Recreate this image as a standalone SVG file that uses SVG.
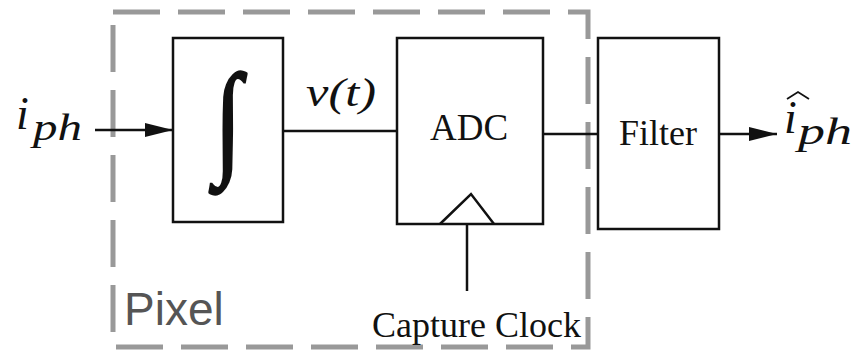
<svg xmlns="http://www.w3.org/2000/svg" width="859" height="350" viewBox="0 0 859 350">
<style>
.blk{fill:#fff;stroke:#111;stroke-width:2.5}
.wire{fill:none;stroke:#111;stroke-width:2.5}
.rm{font-family:"Liberation Serif",serif;fill:#111}
.it{font-family:"Liberation Serif",serif;font-style:italic;fill:#111}
.dash{fill:none;stroke:#999;stroke-width:5;stroke-dasharray:47 18}
</style>
<defs>
<marker id="ah" markerWidth="30" markerHeight="16" refX="28" refY="7" orient="auto" markerUnits="userSpaceOnUse">
<path d="M0,0 L28,7 L0,14 Z" fill="#111"/>
</marker>
</defs>
<rect width="859" height="350" fill="#fff"/>
<g id="pixel">
<rect class="dash" x="113" y="12" width="475" height="335"/>
<text x="124" y="325" font-family="Liberation Sans,Arial,sans-serif" font-size="46" fill="#555">Pixel</text>
</g>
<g id="connectors">
<line class="wire" x1="95" y1="130" x2="173" y2="130" marker-end="url(#ah)"/>
<line class="wire" x1="283" y1="131" x2="397" y2="131"/>
<line class="wire" x1="543" y1="134" x2="598" y2="134"/>
<line class="wire" x1="719" y1="134" x2="777" y2="134" marker-end="url(#ah)"/>
<line class="wire" x1="467" y1="224" x2="467" y2="291"/>
</g>
<g id="input">
<text class="it" x="16" y="129" font-size="46">i</text>
<text class="it" x="33" y="140" font-size="38" textLength="49" lengthAdjust="spacingAndGlyphs">ph</text>
</g>
<g id="integrator">
<rect class="blk" x="173" y="38" width="110" height="184"/>
<text class="rm" transform="translate(228,161) scale(0.9,1.14)" x="0" y="0" font-size="110" text-anchor="middle" style="stroke:#111;stroke-width:2.2">∫</text>
</g>
<g id="vt">
<text class="it" x="306" y="106" font-size="40" textLength="70" lengthAdjust="spacingAndGlyphs">v(t)</text>
</g>
<g id="adc">
<rect class="blk" x="397" y="38" width="146" height="186"/>
<text class="rm" x="469" y="140" font-size="37" text-anchor="middle">ADC</text>
<polyline class="wire" points="440,224 471,194 494,224"/>
</g>
<g id="filter">
<rect class="blk" x="598" y="38" width="121" height="191"/>
<text class="rm" x="658" y="145" font-size="36" text-anchor="middle">Filter</text>
</g>
<g id="output">
<text class="it" x="784" y="133" font-size="46">i</text>
<polyline points="787,99 798,92 809,99" fill="none" stroke="#111" stroke-width="1.8"/>
<text class="it" x="798" y="144" font-size="38" textLength="54" lengthAdjust="spacingAndGlyphs">ph</text>
</g>
<g id="clock">
<text class="rm" x="372" y="337" font-size="36">Capture Clock</text>
</g>
</svg>
